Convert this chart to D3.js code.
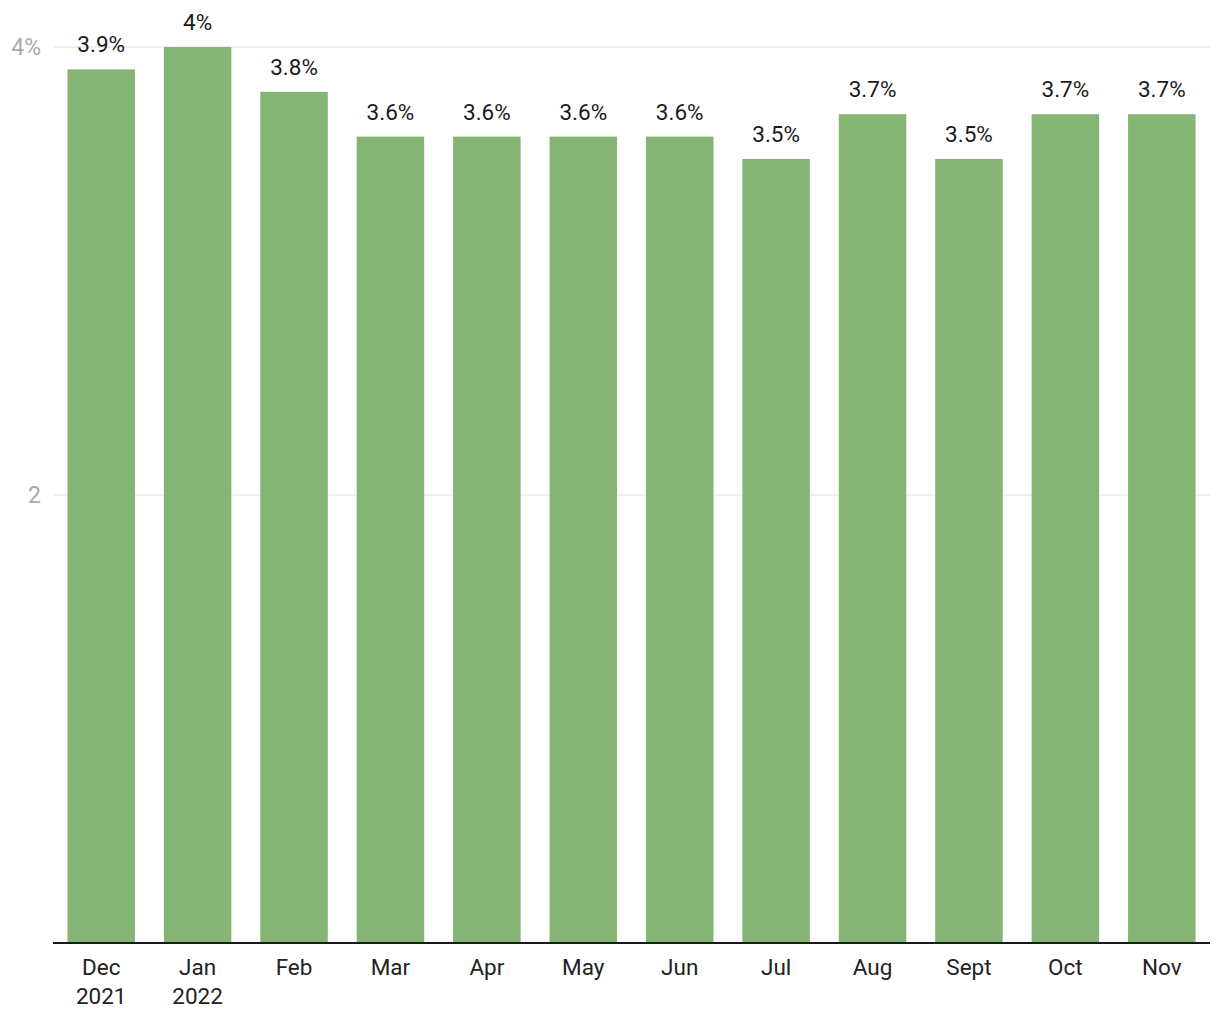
<!DOCTYPE html>
<html><head><meta charset="utf-8">
<script src="https://cdn.jsdelivr.net/npm/d3@7"></script>
<style>body{margin:0;background:#fff;font-family:Roboto,sans-serif;}</style>
</head><body><svg id="c" width="1220" height="1020"></svg>
<script>
const categories = [["Dec","2021"],["Jan","2022"],["Feb"],["Mar"],["Apr"],["May"],["Jun"],["Jul"],["Aug"],["Sept"],["Oct"],["Nov"]];
const values = [3.9, 4, 3.8, 3.6, 3.6, 3.6, 3.6, 3.5, 3.7, 3.5, 3.7, 3.7];
const yTicks = [2, 4];
const svg = d3.select("#c");
const x = d3.scaleBand().domain(categories.map((d,i)=>i)).range([53,1210]).paddingInner(0.3).paddingOuter(0.15);
const y = d3.scaleLinear().domain([0,4]).range([943,47]);
// grid
svg.append("g").selectAll("line").data(yTicks).join("line")
  .attr("x1",53).attr("x2",1210).attr("y1",d=>y(d)).attr("y2",d=>y(d))
  .attr("stroke","#e0e0e0").attr("stroke-width",1.2);
svg.append("g").selectAll("text").data(yTicks).join("text")
  .attr("x",41).attr("y",d=>y(d)+8).attr("text-anchor","end")
  .attr("font-size",23).attr("fill","#aaaaaa")
  .text(d=>d===4?"4%":d);
// bars
svg.append("g").selectAll("rect").data(values).join("rect")
  .attr("x",(d,i)=>x(i)).attr("width",x.bandwidth())
  .attr("y",d=>y(d)).attr("height",d=>y(0)-y(d)).attr("fill","#84b574");
// value labels
svg.append("g").selectAll("text").data(values).join("text")
  .attr("x",(d,i)=>x(i)+x.bandwidth()/2).attr("y",d=>y(d)-17)
  .attr("text-anchor","middle").attr("font-size",22.5).attr("fill","#1a1a1a")
  .text(d=>d+"%");
// baseline
svg.append("line").attr("x1",53).attr("x2",1210).attr("y1",y(0)).attr("y2",y(0))
  .attr("stroke","#1a1a1a").attr("stroke-width",2);
// category labels
const cl = svg.append("g").selectAll("text").data(categories).join("text")
  .attr("x",(d,i)=>x(i)+x.bandwidth()/2).attr("y",975)
  .attr("text-anchor","middle").attr("font-size",22.5).attr("fill","#222");
cl.selectAll("tspan").data(d=>d).join("tspan")
  .attr("x",function(){return this.parentNode.getAttribute("x");})
  .attr("dy",(d,i)=>i===0?0:29).text(d=>d);
</script></body></html>
